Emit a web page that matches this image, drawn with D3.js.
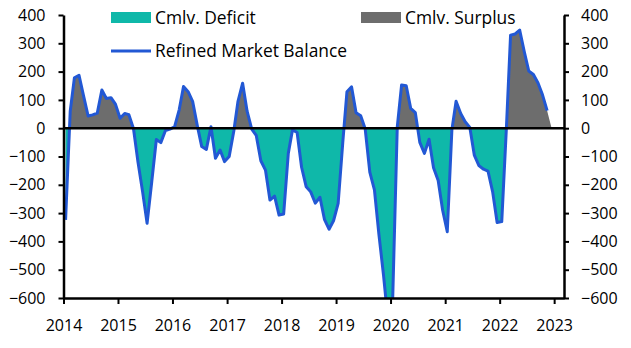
<!DOCTYPE html>
<html>
<head>
<meta charset="utf-8">
<script src="https://cdn.jsdelivr.net/npm/d3@7"></script>
<style>
  body { margin: 0; background: #fff; }
  svg { display: block; font-family: "Open Sans", sans-serif; }
</style>
</head>
<body>
<svg id="chart" width="631" height="348"></svg>
<script>
// refined market balance, monthly from Jan 2014 to Nov 2022
const balance2014 = [-324, 60, 178, 187, 115, 43, 47, 53, 135, 105, 108, 85]
const balance2015 = [35, 52, 48, -2, -120, -225, -336, -190, -40, -51, -8, -3]
const balance2016 = [5, 65, 147, 129, 95, 10, -65, -75, 5, -106, -77, -118]
const balance2017 = [-100, -10, 95, 159, 60, -3, -25, -115, -148, -254, -240, -307]
const balance2018 = [-303, -89, -6, -15, -138, -207, -225, -265, -244, -322, -357, -327]
const balance2019 = [-266, -50, 129, 146, 55, 44, -2, -155, -218, -375, -520, -680]
const balance2020 = [-610, 5, 153, 150, 70, 55, -50, -89, -39, -140, -185, -290]
const balance2021 = [-366, -5, 95, 52, 23, 3, -95, -132, -145, -152, -225, -333]
const balance2022 = [-330, 0, 329, 333, 347, 270, 202, 190, 160, 118, 62]
// the cumulative area runs one month past the line
const cmlvTail = [0]

const yTicks = [-600, -500, -400, -300, -200, -100, 0, 100, 200, 300, 400]
const xYears = [2014, 2015, 2016, 2017, 2018, 2019, 2020, 2021, 2022, 2023]
const legendNames = ["Cmlv. Deficit", "Cmlv. Surplus", "Refined Market Balance"]

const balance = [].concat(balance2014, balance2015, balance2016, balance2017,
    balance2018, balance2019, balance2020, balance2021, balance2022)

// mid-month dates
let linePts = balance.map((v, i) => ({ date: new Date(2014, i, 15), v: v }))
let areaPts = linePts.concat(cmlvTail.map((v, i) => ({ date: new Date(2014, balance.length + i, 15), v: v })))

const svg = d3.select("#chart")
const plotLeft = 63.5, plotRight = 564, plotTop = 15, plotBottom = 298

let x = d3.scaleTime()
    .domain([new Date(2014, 0, 1), new Date(2023, 2, 8)])
    .range([plotLeft, plotRight])
let y = d3.scaleLinear()
    .domain([-600, 400])
    .range([plotBottom, plotTop])

// add a point at every zero crossing so the two fills meet cleanly
function splitAtZero(pts) {
    let out = []
    pts.forEach((p, i) => {
        if (i > 0) {
            let q = pts[i - 1]
            if ((q.v < 0 && p.v > 0) || (q.v > 0 && p.v < 0)) {
                let t = q.v / (q.v - p.v)
                out.push({ date: new Date(+q.date + t * (p.date - q.date)), v: 0 })
            }
        }
        out.push(p)
    })
    return out
}
let filled = splitAtZero(areaPts)

svg.append("clipPath").attr("id", "plot")
    .append("rect")
    .attr("x", plotLeft).attr("y", plotTop)
    .attr("width", plotRight - plotLeft).attr("height", plotBottom - plotTop)

let plot = svg.append("g").attr("clip-path", "url(#plot)")

let deficitArea = d3.area()
    .x(d => x(d.date))
    .y0(y(0))
    .y1(d => y(Math.min(d.v, 0)))
let surplusArea = d3.area()
    .x(d => x(d.date))
    .y0(y(0))
    .y1(d => y(Math.max(d.v, 0)))

plot.append("path").attr("d", deficitArea(filled)).attr("fill", "#0fb8a9")
plot.append("path").attr("d", surplusArea(filled)).attr("fill", "#6d6d6d")

// zero line
svg.append("line")
    .attr("x1", plotLeft).attr("x2", plotRight)
    .attr("y1", y(0)).attr("y2", y(0))
    .attr("stroke", "#000").attr("stroke-width", 2.5)

let line = d3.line()
    .x(d => x(d.date))
    .y(d => y(d.v))
plot.append("path")
    .attr("d", line(linePts))
    .attr("fill", "none")
    .attr("stroke", "#2258d4")
    .attr("stroke-width", 3)
    .attr("stroke-linejoin", "round")

// axes
function styleAxis(g) {
    g.select(".domain").attr("stroke", "#000").attr("stroke-width", 2.5)
    g.selectAll(".tick line").attr("stroke", "#000").attr("stroke-width", 2)
    g.selectAll("text").attr("fill", "#000").style("font-size", "16px")
        .style("font-family", "'Open Sans', sans-serif")
}

svg.append("g")
    .attr("transform", "translate(" + plotLeft + ",0)")
    .call(d3.axisLeft(y).tickValues(yTicks).tickSize(5).tickSizeOuter(0).tickPadding(13))
    .call(styleAxis)

svg.append("g")
    .attr("transform", "translate(" + plotRight + ",0)")
    .call(d3.axisRight(y).tickValues(yTicks).tickSize(5).tickSizeOuter(0).tickPadding(12))
    .call(styleAxis)

svg.append("g")
    .attr("transform", "translate(0," + plotBottom + ")")
    .call(d3.axisBottom(x)
        .tickValues(xYears.map(yr => new Date(yr, 0, 1)))
        .tickFormat(d3.timeFormat("%Y"))
        .tickSize(6).tickSizeOuter(0).tickPadding(16))
    .call(styleAxis)

// legend
let legend = svg.append("g").style("font-size", "17.4px")
legend.append("rect").attr("x", 111).attr("y", 12).attr("width", 40).attr("height", 11).attr("fill", "#0fb8a9")
legend.append("text").attr("x", 155).attr("y", 24).text(legendNames[0])
legend.append("rect").attr("x", 361).attr("y", 12).attr("width", 40).attr("height", 11).attr("fill", "#6d6d6d")
legend.append("text").attr("x", 405).attr("y", 24).text(legendNames[1])
legend.append("line").attr("x1", 111).attr("x2", 151).attr("y1", 51).attr("y2", 51)
    .attr("stroke", "#2258d4").attr("stroke-width", 3)
legend.append("text").attr("x", 155).attr("y", 57).text(legendNames[2])
</script>
</body>
</html>
